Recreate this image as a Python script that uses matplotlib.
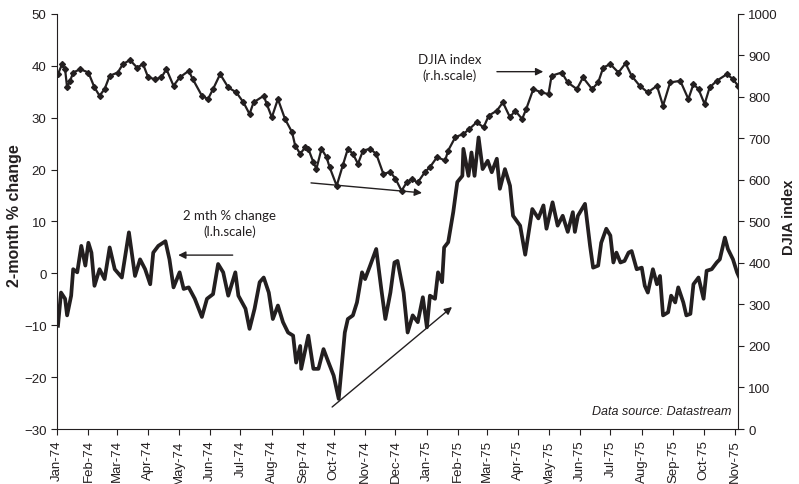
import numpy as np
import pandas as pd
import matplotlib
matplotlib.use('Agg')
import matplotlib.pyplot as plt
import matplotlib.dates as mdates

# x positions are days counted from 1 Jan 1974
start = pd.Timestamp('1974-01-01')

# DJIA index (right hand scale)
djia_days = [1, 5, 8, 10, 13, 16, 23, 31, 37, 42, 47, 52, 60, 65, 72, 79, 85, 90, 97,
             103, 108, 115, 121, 130, 134, 143, 149, 154, 161, 169, 177, 184, 190, 194,
             204, 207, 212, 218, 225, 232, 235, 240, 245, 248, 253, 256, 261, 266, 269,
             276, 282, 287, 292, 297, 302, 309, 315, 322, 329, 334, 340, 345, 350, 356,
             363, 368, 375, 383, 386, 393, 401, 407, 414, 421, 426, 434, 440, 447, 452,
             459, 463, 470, 478, 485, 488, 498, 504, 513, 519, 528, 534, 539, 546, 554,
             561, 567, 575, 583, 592, 598, 605, 615, 623, 628, 633, 639, 644, 651, 661,
             667, 672]
djia_vals = [855, 879, 867, 823, 839, 859, 867, 859, 823, 803, 819, 851, 859, 879, 889,
             871, 879, 847, 843, 847, 867, 827, 847, 863, 843, 803, 795, 819, 855, 823,
             811, 787, 759, 787, 803, 783, 751, 795, 747, 715, 683, 663, 679, 675, 643,
             627, 675, 655, 631, 586, 635, 675, 663, 639, 671, 675, 663, 615, 619, 603,
             574, 594, 602, 594, 619, 631, 655, 647, 671, 703, 711, 723, 739, 727, 755,
             767, 787, 751, 767, 747, 771, 819, 811, 807, 851, 859, 835, 819, 847, 819,
             835, 871, 879, 859, 881, 851, 827, 811, 827, 779, 835, 839, 795, 831, 819,
             783, 823, 839, 855, 843, 827]

# 2-month % change (left hand scale)
chg_days = [1, 4, 8, 10, 14, 16, 20, 24, 28, 31, 34, 37, 42, 47, 52, 57, 64, 71, 77, 82,
            87, 92, 95, 100, 107, 111, 115, 121, 125, 130, 136, 143, 148, 154, 159, 164,
            169, 176, 179, 186, 190, 195, 200, 204, 209, 213, 218, 223, 228, 233, 236,
            240, 241, 248, 253, 258, 263, 268, 273, 278, 284, 287, 292, 296, 301, 304,
            309, 315, 320, 324, 329, 333, 336, 342, 346, 351, 356, 361, 365, 368, 373,
            376, 380, 382, 386, 391, 395, 400, 401, 406, 409, 412, 416, 420, 425, 429,
            434, 437, 442, 447, 450, 457, 462, 469, 475, 480, 483, 489, 494, 499, 504,
            509, 511, 514, 521, 526, 529, 534, 537, 542, 546, 549, 552, 556, 560, 564,
            567, 572, 577, 580, 583, 588, 592, 595, 598, 603, 606, 610, 613, 618, 621,
            625, 628, 633, 638, 641, 646, 651, 654, 659, 662, 667, 671, 674]
chg_vals = [-10.1, -3.7, -4.9, -8.1, -4.3, 0.8, 0.2, 5.3, 1.5, 5.9, 4.0, -2.4, 0.8, -1.1,
            5.0, 0.8, -0.8, 7.9, -0.5, 2.7, 0.8, -2.1, 4.0, 5.3, 6.2, 2.7, -2.7, 0.2,
            -3.0, -2.7, -4.9, -8.4, -4.9, -4.0, 1.8, 0.2, -4.3, 0.2, -4.3, -6.8, -10.7,
            -6.8, -1.7, -0.8, -3.7, -8.8, -6.2, -9.4, -11.4, -12.0, -17.2, -14.0, -18.4,
            -12.0, -18.4, -18.4, -14.6, -17.2, -19.7, -24.2, -11.4, -8.8, -8.1, -5.6,
            0.2, -1.1, 1.5, 4.7, -3.0, -8.8, -3.7, 2.1, 2.4, -3.7, -11.4, -8.1, -9.4,
            -4.6, -10.4, -4.3, -4.9, 0.2, -1.7, 5.0, 6.0, 11.8, 17.6, 18.8, 24.0, 18.8,
            23.3, 18.8, 26.2, 20.1, 21.7, 19.5, 22.1, 16.3, 20.1, 16.9, 11.1, 9.2, 3.6,
            12.4, 10.6, 13.1, 8.6, 13.7, 9.2, 11.1, 8.0, 11.8, 8.0, 11.1, 13.4, 5.3, 1.1,
            1.5, 5.9, 8.6, 7.3, 2.1, 4.0, 2.1, 2.4, 4.0, 4.3, 0.8, 1.1, -2.4, -3.7, 0.8,
            -2.1, -0.5, -8.1, -7.5, -4.3, -5.6, -2.7, -5.6, -8.1, -7.8, -2.1, -0.8, -4.9,
            0.5, 0.8, 2.1, 2.7, 6.9, 4.7, 2.7, 0.2, -1.1]

djia_dates = start + pd.to_timedelta(djia_days, unit='D')
chg_dates = start + pd.to_timedelta(chg_days, unit='D')
month_ticks = pd.date_range('1974-01-01', '1975-11-01', freq='MS')

ink = '#231f20'
plt.rcParams['font.family'] = ['Liberation Sans', 'DejaVu Sans']

fig = plt.figure(figsize=(7.99, 4.85), dpi=100)
ax = fig.add_axes([0.0713, 0.1134, 0.8524, 0.8557])
ax2 = ax.twinx()

ax.plot(chg_dates, chg_vals, color=ink, lw=2.7)
ax2.plot(djia_dates, djia_vals, color=ink, lw=1.6, marker='D', ms=3.0)

ax.set_ylim(-30, 50)
ax.set_yticks(range(-30, 51, 10))
ax2.set_ylim(0, 1000)
ax2.set_yticks(range(0, 1001, 100))
ax.set_xlim(start, start + pd.Timedelta(days=672))
ax.set_xticks(month_ticks)
ax.xaxis.set_major_formatter(mdates.DateFormatter('%b-%y'))

ax.tick_params(axis='x', labelsize=9.5, rotation=90, length=4, color=ink, labelcolor=ink)
ax.tick_params(axis='y', labelsize=9.5, length=4, color=ink, labelcolor=ink)
ax2.tick_params(axis='y', labelsize=9.5, length=4, color=ink, labelcolor=ink)

for a in (ax, ax2):
    a.spines['top'].set_visible(False)
    for s in a.spines.values():
        s.set_color(ink)
ax.spines['right'].set_visible(False)
ax2.spines['left'].set_visible(False)
ax2.spines['bottom'].set_visible(False)

ax.set_ylabel('2-month % change', fontsize=11.5, fontweight='bold', color=ink)
ax.yaxis.set_label_coords(-0.052, 0.516)
ax2.set_ylabel('DJIA index', fontsize=10.5, fontweight='bold', color=ink)
ax2.yaxis.set_label_coords(1.065, 0.513)

# annotations
arrow = dict(arrowstyle='-|>', color=ink, lw=1.0, mutation_scale=11, shrinkA=0, shrinkB=0)
ax2.text(0.576, 0.872, 'DJIA index\n(r.h.scale)', transform=ax2.transAxes, ha='center',
         va='center', fontsize=9.5, family='Lato', color=ink, linespacing=1.3)
ax2.annotate('', xy=(0.714, 0.861), xytext=(0.646, 0.861), xycoords='axes fraction', arrowprops=arrow)
ax2.text(0.254, 0.496, '2 mth % change\n(l.h.scale)', transform=ax2.transAxes, ha='center',
         va='center', fontsize=9.5, family='Lato', color=ink, linespacing=1.3)
ax2.annotate('', xy=(0.178, 0.419), xytext=(0.258, 0.419), xycoords='axes fraction', arrowprops=arrow)
ax2.annotate('', xy=(0.536, 0.569), xytext=(0.373, 0.593), xycoords='axes fraction', arrowprops=arrow)
ax2.annotate('', xy=(0.580, 0.294), xytext=(0.404, 0.053), xycoords='axes fraction', arrowprops=arrow)
ax2.text(0.990, 0.043, 'Data source: Datastream', transform=ax2.transAxes, ha='right',
         va='center', fontsize=9, style='italic', color=ink)

fig.savefig('out.png', dpi=100)
